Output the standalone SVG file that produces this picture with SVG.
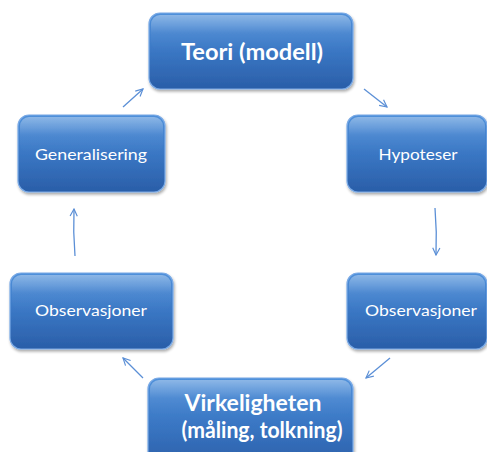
<svg xmlns="http://www.w3.org/2000/svg" width="487" height="452" viewBox="0 0 487 452">
<defs>
<linearGradient id="g" x1="0" y1="0" x2="0" y2="1">
<stop offset="0" stop-color="#4f90da"/>
<stop offset="0.5" stop-color="#3a77c4"/>
<stop offset="1" stop-color="#2a5ea8"/>
</linearGradient>
<linearGradient id="hl" x1="0" y1="0" x2="0" y2="1">
<stop offset="0" stop-color="#ffffff" stop-opacity="0.35"/>
<stop offset="0.5" stop-color="#ffffff" stop-opacity="0.05"/>
<stop offset="1" stop-color="#ffffff" stop-opacity="0"/>
</linearGradient>
<filter id="sh" x="-10%" y="-10%" width="120%" height="130%">
<feGaussianBlur in="SourceAlpha" stdDeviation="1.5"/>
<feOffset dx="1" dy="2" result="b"/>
<feComponentTransfer><feFuncA type="linear" slope="0.35"/></feComponentTransfer>
<feMerge><feMergeNode/><feMergeNode in="SourceGraphic"/></feMerge>
</filter>
<marker id="ah" viewBox="0 0 10 10" refX="9" refY="5" markerWidth="9" markerHeight="9" orient="auto" markerUnits="userSpaceOnUse">
<path d="M1,1 L9,5 L1,9" fill="none" stroke="#5b8fd6" stroke-width="1.3"/>
</marker>
</defs>
<style>
.box{fill:url(#g);stroke:#7aaae6;stroke-width:1.2;filter:url(#sh)}
.gl{fill:url(#hl);stroke:none}
.t{font-family:Lato,"Open Sans",sans-serif;fill:#ffffff;text-anchor:middle}
.s{font-size:16px}
.b{font-size:23px;font-weight:bold}
.c{fill:none;stroke:#5b8fd6;stroke-width:1.3;marker-end:url(#ah)}
</style>
<rect width="487" height="452" fill="#ffffff"/>
<g id="teori">
<rect class="box" x="149" y="13" width="204" height="76" rx="11"/>
<rect class="gl" x="151" y="15" width="200" height="36" rx="9"/>
<text class="t b" x="252" y="60" textLength="142" lengthAdjust="spacingAndGlyphs">Teori (modell)</text>
</g>
<g id="hypoteser">
<rect class="box" x="347" y="115" width="140" height="77" rx="11"/>
<rect class="gl" x="349" y="117" width="136" height="36" rx="9"/>
<text class="t s" x="418" y="160" textLength="79" lengthAdjust="spacingAndGlyphs">Hypoteser</text>
</g>
<g id="generalisering">
<rect class="box" x="18" y="115" width="147" height="77" rx="11"/>
<rect class="gl" x="20" y="117" width="143" height="36" rx="9"/>
<text class="t s" x="91" y="160" textLength="112" lengthAdjust="spacingAndGlyphs">Generalisering</text>
</g>
<g id="obs-left">
<rect class="box" x="10" y="273" width="163" height="76" rx="11"/>
<rect class="gl" x="12" y="275" width="159" height="36" rx="9"/>
<text class="t s" x="91" y="316" textLength="112" lengthAdjust="spacingAndGlyphs">Observasjoner</text>
</g>
<g id="obs-right">
<rect class="box" x="347" y="273" width="140" height="76" rx="11"/>
<rect class="gl" x="349" y="275" width="136" height="36" rx="9"/>
<text class="t s" x="421" y="316" textLength="112" lengthAdjust="spacingAndGlyphs">Observasjoner</text>
</g>
<g id="virkeligheten">
<rect class="box" x="148" y="378" width="205" height="90" rx="11"/>
<rect class="gl" x="150" y="380" width="201" height="36" rx="9"/>
<text class="t b" x="253" y="411" textLength="137" lengthAdjust="spacingAndGlyphs">Virkeligheten</text>
<text class="t b" x="262" y="438" textLength="161" lengthAdjust="spacingAndGlyphs">(måling, tolkning)</text>
</g>
<g id="connectors">
<path class="c" d="M123,107 L143,89"/>
<path class="c" d="M364,89 L387,107"/>
<path class="c" d="M435,208 Q437,232 436,255"/>
<path class="c" d="M390,358 L366,378"/>
<path class="c" d="M143,378 L123,358"/>
<path class="c" d="M75,256 Q73,232 74,209"/>
</g>
</svg>
